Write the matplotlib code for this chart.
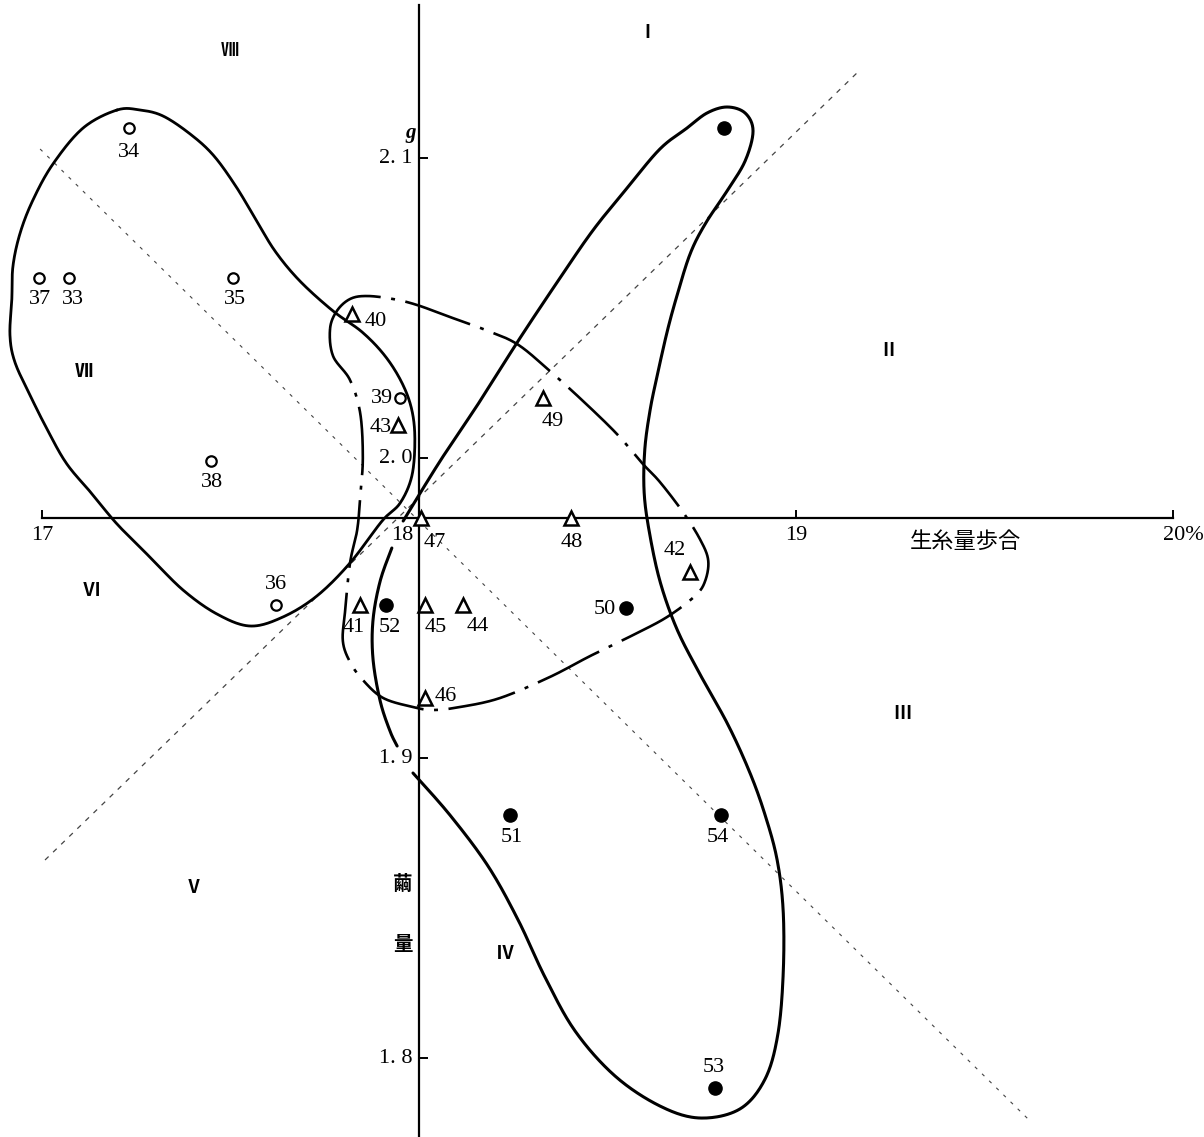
import numpy as np
import matplotlib
matplotlib.use('Agg')
import matplotlib.pyplot as plt

CJK = ['Noto Sans CJK JP', 'DejaVu Sans']
NUM = ['Liberation Serif', 'DejaVu Serif']

# 生糸量歩合 (%) と 繭量 (g)
x0, y0 = 18.0, 1.98          # 軸の交点
x_ticks = [17, 19, 20]
x_tick_labels = ['17', '19', '20%']
y_ticks = [2.1, 2.0, 1.9, 1.8]
y_tick_labels = ['2. 1', '2. 0', '1. 9', '1. 8']

# ○ 群
c_id = [34, 37, 33, 35, 39, 38, 36]
c_x = [17.231, 16.992, 17.072, 17.507, 17.950, 17.448, 17.621]
c_y = [2.110, 2.060, 2.060, 2.060, 2.020, 1.999, 1.951]

# △ 群
t_id = [40, 43, 49, 47, 48, 42, 41, 45, 44, 46]
t_x = [17.822, 17.944, 18.329, 18.005, 18.403, 18.719, 17.843, 18.016, 18.117, 18.016]
t_y = [2.048, 2.011, 2.020, 1.980, 1.980, 1.962, 1.951, 1.951, 1.951, 1.920]

# ● 群
f_id = [None, 52, 50, 51, 54, 53]
f_x = [18.809, 17.912, 18.549, 18.241, 18.801, 18.785]
f_y = [2.110, 1.951, 1.950, 1.881, 1.881, 1.790]

# 区域の境界線
loop_c_x = [17.199, 17.260, 17.321, 17.393, 17.454, 17.512, 17.565, 17.618, 17.684, 17.772,
            17.849, 17.910, 17.955, 17.981, 17.989, 17.981, 17.950, 17.902, 17.817, 17.729,
            17.639, 17.552, 17.464, 17.374, 17.286, 17.199, 17.133, 17.066, 17.016, 16.968,
            16.928, 16.915, 16.920, 16.923, 16.942, 16.976, 17.029, 17.109]
loop_c_y = [2.116, 2.116, 2.114, 2.108, 2.101, 2.091, 2.080, 2.069, 2.059, 2.049,
            2.042, 2.034, 2.025, 2.016, 2.006, 1.994, 1.985, 1.979, 1.965, 1.954,
            1.947, 1.944, 1.948, 1.956, 1.967, 1.978, 1.988, 1.998, 2.009, 2.021,
            2.032, 2.041, 2.053, 2.064, 2.075, 2.086, 2.098, 2.110]

loop_t_x = [17.764, 17.782, 17.817, 17.862, 17.931, 17.995, 18.082, 18.170, 18.260, 18.347,
            18.435, 18.525, 18.594, 18.639, 18.700, 18.745, 18.767, 18.759, 18.732, 18.658,
            18.568, 18.454, 18.347, 18.215, 18.109, 18.037, 17.984, 17.905, 17.851, 17.817,
            17.798, 17.804, 17.817, 17.836, 17.844, 17.851, 17.844, 17.817, 17.772]
loop_t_y = [2.043, 2.049, 2.053, 2.054, 2.053, 2.051, 2.047, 2.043, 2.038, 2.029,
            2.019, 2.008, 1.998, 1.992, 1.982, 1.973, 1.966, 1.959, 1.954, 1.947,
            1.941, 1.934, 1.927, 1.920, 1.917, 1.916, 1.917, 1.920, 1.926, 1.932,
            1.939, 1.949, 1.965, 1.976, 1.987, 2.000, 2.015, 2.026, 2.034]

loop_f1_x = [17.928, 17.897, 17.878, 17.878, 17.897, 17.923, 17.942]
loop_f1_y = [1.970, 1.959, 1.946, 1.933, 1.919, 1.909, 1.904]

loop_f2_x = [17.984, 18.082, 18.183, 18.263, 18.334, 18.414, 18.520, 18.639, 18.745, 18.851,
             18.918, 18.952, 18.966, 18.966, 18.950, 18.918, 18.878, 18.820, 18.745, 18.684,
             18.639, 18.610, 18.597, 18.599, 18.613, 18.631, 18.658, 18.684, 18.719, 18.759,
             18.817, 18.865, 18.886, 18.865, 18.817, 18.764, 18.711, 18.639, 18.552, 18.462,
             18.374, 18.268, 18.162, 18.056, 17.958]
loop_f2_y = [1.895, 1.881, 1.864, 1.846, 1.827, 1.809, 1.794, 1.784, 1.780, 1.783,
             1.793, 1.808, 1.828, 1.849, 1.866, 1.881, 1.895, 1.911, 1.928, 1.943,
             1.959, 1.976, 1.989, 2.003, 2.016, 2.027, 2.042, 2.054, 2.068, 2.078,
             2.089, 2.099, 2.109, 2.115, 2.117, 2.115, 2.110, 2.103, 2.090, 2.076,
             2.060, 2.040, 2.019, 1.999, 1.979]

# 対角の補助線
diag1_x = [16.995, 19.621]
diag1_y = [2.103, 1.779]
diag2_x = [17.008, 19.167]
diag2_y = [1.866, 2.129]

regions = ['Ⅰ', 'Ⅱ', 'Ⅲ', 'Ⅳ', 'Ⅴ', 'Ⅵ', 'Ⅶ', 'Ⅷ']
region_x = [18.605, 19.244, 19.281, 18.228, 17.401, 17.133, 17.111, 17.499]
region_y = [2.142, 2.036, 1.915, 1.835, 1.857, 1.956, 2.029, 2.136]

# 番号ラベルのずらし量 (pixel) と揃え
label_pos = {
    34: (0, -24, 'center'), 37: (1, -21, 'center'), 33: (4, -21, 'center'),
    35: (2, -21, 'center'), 39: (-7, 0, 'right'), 38: (1, -21, 'center'),
    36: (0, 21, 'center'), 40: (13, -7, 'left'), 43: (-6, -2, 'right'),
    49: (10, -23, 'center'), 47: (14, -24, 'center'), 48: (1, -24, 'center'),
    42: (-15, 22, 'center'), 41: (-6, -22, 'center'), 45: (11, -22, 'center'),
    44: (15, -21, 'center'), 46: (10, 2, 'left'), 52: (4, -22, 'center'),
    50: (-10, -1, 'right'), 51: (2, -22, 'center'), 54: (-3, -22, 'center'),
    53: (-1, 21, 'center'),
}


def smooth(xs, ys, closed, n=24):
    p = np.column_stack([xs, ys])
    if closed:
        P = np.vstack([p[-1], p, p[0], p[1]])
    else:
        P = np.vstack([p[0], p, p[-1]])
    t = np.linspace(0, 1, n, endpoint=False)[:, None]
    segs = []
    for i in range(1, len(P) - 2):
        a, b, c, d = P[i - 1], P[i], P[i + 1], P[i + 2]
        segs.append(0.5 * (2 * b + (c - a) * t + (2 * a - 5 * b + 4 * c - d) * t ** 2
                           + (-a + 3 * b - 3 * c + d) * t ** 3))
    segs.append(P[-2][None])
    s = np.vstack(segs)
    return s[:, 0], s[:, 1]


fig = plt.figure(figsize=(12.04, 11.37), dpi=100)
ax = fig.add_axes([0, 0, 1, 1])
ax.set_xlim(16.8886, 20.0822)
ax.set_ylim(1.77367, 2.15267)
ax.axis('off')

# 補助線
ax.plot(diag1_x, diag1_y, color='#444444', lw=0.8, ls=(0, (3, 6)))
ax.plot(diag2_x, diag2_y, color='#444444', lw=0.9, ls=(0, (4, 5)))

# 軸
ax.plot([17, 20], [y0, y0], color='black', lw=1.6)
ax.plot([x0, x0], [1.77367, 2.151], color='black', lw=1.6)
ax.vlines(x_ticks, y0, y0 + 0.0028, color='black', lw=1.4)
ax.hlines(y_ticks, x0, x0 + 0.025, color='black', lw=1.4)

for xv, s in zip(x_ticks, x_tick_labels):
    ax.annotate(s, (xv, y0), xytext=(0 if s != '20%' else 10, -8), textcoords='offset pixels',
                ha='center', va='top', fontsize=16, family=NUM)
ax.annotate('18', (x0, y0), xytext=(-17, -8), textcoords='offset pixels',
            ha='center', va='top', fontsize=16, family=NUM)
for yv, s in zip(y_ticks, y_tick_labels):
    ax.annotate(s, (x0, yv), xytext=(-7, 0), textcoords='offset pixels',
                ha='right', va='center', fontsize=16, family=NUM)
ax.annotate('g', (x0, 2.1), xytext=(-8, 25), textcoords='offset pixels',
            ha='center', va='center', fontsize=15, family=NUM, style='italic',
            fontweight='bold')

# 軸名
ax.annotate('生糸量歩合', (19.45, y0), xytext=(0, -23), textcoords='offset pixels',
            ha='center', va='center', fontsize=16, family=CJK)
ax.annotate('繭', (x0, 1.858), xytext=(-16, 0), textcoords='offset pixels',
            ha='center', va='center', fontsize=14, family=CJK, fontweight='bold')
ax.annotate('量', (x0, 1.838), xytext=(-16, 0), textcoords='offset pixels',
            ha='center', va='center', fontsize=14, family=CJK, fontweight='bold')

# 区域番号
for s, xv, yv in zip(regions, region_x, region_y):
    ax.text(xv, yv, s, ha='center', va='center', fontsize=13, family=CJK,
            fontweight='bold')

# 境界線
lx, ly = smooth(loop_c_x, loop_c_y, True)
ax.plot(lx, ly, color='black', lw=2.0, solid_capstyle='round')
lx, ly = smooth(loop_t_x, loop_t_y, True)
ax.plot(lx, ly, color='black', lw=1.9, ls=(0, (26, 4, 1.5, 4)))
lx, ly = smooth(loop_f1_x, loop_f1_y, False)
ax.plot(lx, ly, color='black', lw=2.2, solid_capstyle='round')
lx, ly = smooth(loop_f2_x, loop_f2_y, False)
ax.plot(lx, ly, color='black', lw=2.2, solid_capstyle='round')

# 点
ax.plot(c_x, c_y, 'o', ms=7.5, mfc='white', mec='black', mew=1.6, zorder=5)
ax.plot(t_x, t_y, '^', ms=9.5, mfc='white', mec='black', mew=1.8, zorder=5)
ax.plot(f_x, f_y, 'o', ms=9.5, color='black', zorder=5)

for ids, xs, ys in ((c_id, c_x, c_y), (t_id, t_x, t_y), (f_id, f_x, f_y)):
    for k, xv, yv in zip(ids, xs, ys):
        if k is None:
            continue
        dx, dy, ha = label_pos[k]
        ax.annotate(str(k), (xv, yv), xytext=(dx, dy), textcoords='offset pixels',
                    ha=ha, va='center', fontsize=16, family=NUM)

fig.savefig('out.png', dpi=100, facecolor='white')
